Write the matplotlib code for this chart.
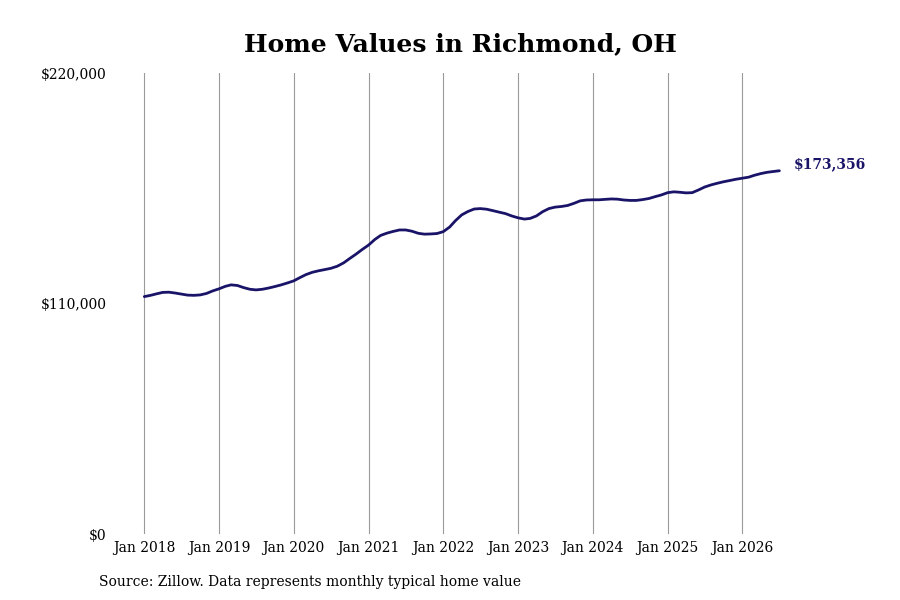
import matplotlib

matplotlib.use("Agg")

import matplotlib.pyplot as plt
import matplotlib.dates as mdates
import pandas as pd
from matplotlib.ticker import FuncFormatter


TITLE = "Home Values in Richmond, OH"
SOURCE = "Source: Zillow. Data represents monthly typical home value"
START = "2018-01-01"
LINE_COLOR = "#1a1468"

# typical home value in thousands of dollars, monthly Jan 2018 - Jul 2026
values_2018 = [113.3, 113.9, 114.6, 115.3, 115.4, 115.0, 114.5, 114.0, 113.9, 114.1, 114.8, 116.0]
values_2019 = [117.0, 118.2, 118.9, 118.6, 117.6, 116.8, 116.5, 116.8, 117.4, 118.1, 118.9, 119.8]
values_2020 = [120.8, 122.4, 123.8, 124.9, 125.6, 126.2, 126.8, 127.8, 129.4, 131.5, 133.6, 135.8]
values_2021 = [137.9, 140.6, 142.5, 143.6, 144.4, 145.1, 145.1, 144.5, 143.5, 143.1, 143.2, 143.4]
values_2022 = [144.3, 146.5, 149.5, 152.3, 153.9, 155.1, 155.3, 155.0, 154.3, 153.6, 152.9, 151.8]
values_2023 = [150.9, 150.3, 150.6, 151.8, 153.8, 155.3, 156.0, 156.3, 156.8, 157.8, 159.0, 159.4]
values_2024 = [159.5, 159.5, 159.7, 159.9, 159.8, 159.4, 159.2, 159.2, 159.6, 160.1, 161.0, 161.8]
values_2025 = [162.9, 163.3, 163.1, 162.8, 162.9, 164.2, 165.6, 166.6, 167.4, 168.1, 168.7, 169.3]
values_2026 = [169.8, 170.3, 171.2, 172.0, 172.6, 173.0, 173.356]

y_ticks = [0, 110000, 220000]


def main() -> None:
    values = (values_2018 + values_2019 + values_2020 + values_2021 + values_2022
              + values_2023 + values_2024 + values_2025 + values_2026)
    values = [v * 1000 for v in values]
    dates = pd.date_range(START, periods=len(values), freq="MS")

    plt.rcParams["font.family"] = "DejaVu Serif"

    fig = plt.figure(figsize=(9, 6), dpi=100)
    ax = fig.add_axes([0.1278, 0.11, 0.75, 0.7683])

    ax.plot(dates, values, color=LINE_COLOR, linewidth=2.0, solid_capstyle="round")

    ax.set_ylim(0, 220000)
    ax.set_yticks(y_ticks)
    ax.yaxis.set_major_formatter(FuncFormatter(lambda v, _: f"${v:,.0f}"))

    start = pd.Timestamp(START)
    ax.set_xlim(start - pd.Timedelta(days=143), start + pd.Timedelta(days=3155))
    ax.xaxis.set_major_locator(mdates.YearLocator(month=1, day=1))
    ax.xaxis.set_major_formatter(mdates.DateFormatter("Jan %Y"))

    ax.tick_params(axis="both", length=0, labelsize=10, colors="#000000")
    ax.tick_params(axis="x", pad=5)
    ax.tick_params(axis="y", pad=6)

    ax.xaxis.grid(True, color="#9a9a9a", linewidth=0.8)
    ax.yaxis.grid(False)
    for spine in ax.spines.values():
        spine.set_visible(False)

    ax.annotate(
        f"${values[-1]:,.0f}",
        xy=(dates[-1], values[-1]),
        xytext=(10, 5),
        textcoords="offset points",
        ha="left",
        va="center",
        fontsize=10,
        fontweight="bold",
        color=LINE_COLOR,
    )

    fig.text(0.512, 0.927, TITLE, ha="center", va="center", fontsize=18, fontweight="bold")
    fig.text(0.11, 0.03, SOURCE, ha="left", va="center", fontsize=10)

    fig.savefig("out.png", dpi=100, facecolor="white")
    plt.close(fig)


if __name__ == "__main__":
    main()
